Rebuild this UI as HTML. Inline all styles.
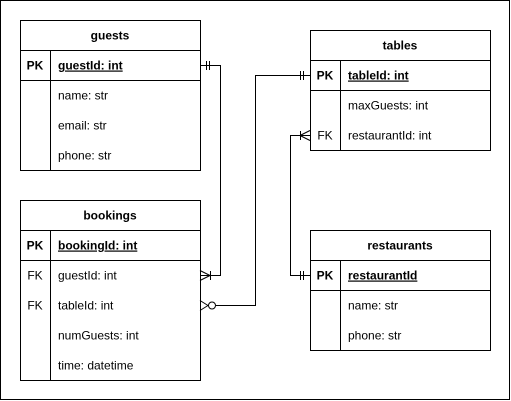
<!DOCTYPE html>
<html><head><meta charset="utf-8"><style>
html,body{margin:0;padding:0;background:#fff;width:511px;height:401px;overflow:hidden}
svg text{font-family:"Liberation Sans",Arial,sans-serif;font-size:12px;fill:#000}
</style></head><body>
<svg width="511" height="401" viewBox="0 0 511 401" xmlns="http://www.w3.org/2000/svg">
<rect x="0.5" y="0.5" width="509" height="399" fill="#fff" stroke="#000"/>
<g fill="none" stroke="#000" stroke-width="1">
<!-- guests -->
<rect x="20.5" y="20.5" width="180" height="150"/>
<line x1="20" y1="50.5" x2="200" y2="50.5"/>
<line x1="20" y1="80.5" x2="200" y2="80.5"/>
<line x1="50.5" y1="50" x2="50.5" y2="170"/>
<!-- bookings -->
<rect x="20.5" y="200.5" width="180" height="180"/>
<line x1="20" y1="230.5" x2="200" y2="230.5"/>
<line x1="20" y1="260.5" x2="200" y2="260.5"/>
<line x1="50.5" y1="230" x2="50.5" y2="380"/>
<!-- tables -->
<rect x="310.5" y="30.5" width="180" height="120"/>
<line x1="310" y1="60.5" x2="490" y2="60.5"/>
<line x1="310" y1="90.5" x2="490" y2="90.5"/>
<line x1="340.5" y1="60" x2="340.5" y2="150"/>
<!-- restaurants -->
<rect x="310.5" y="230.5" width="180" height="120"/>
<line x1="310" y1="260.5" x2="490" y2="260.5"/>
<line x1="310" y1="290.5" x2="490" y2="290.5"/>
<line x1="340.5" y1="260" x2="340.5" y2="350"/>

<!-- guests -> bookings -->
<polyline points="200,65.5 220.5,65.5 220.5,275.5 200,275.5"/>
<line x1="206.5" y1="61" x2="206.5" y2="70"/>
<line x1="209.5" y1="61" x2="209.5" y2="70"/>
<line x1="200" y1="270.5" x2="210" y2="275.5"/>
<line x1="200" y1="280.5" x2="210" y2="275.5"/>
<line x1="210.5" y1="271" x2="210.5" y2="280"/>

<!-- bookings tableId -> tables -->
<polyline points="216,305.5 255.5,305.5 255.5,75.5 310,75.5"/>
<line x1="200" y1="300.5" x2="208" y2="305.5"/>
<line x1="200" y1="310.5" x2="208" y2="305.5"/>
<circle cx="212" cy="305.5" r="3.5" fill="#fff"/>
<line x1="300.5" y1="71" x2="300.5" y2="80"/>
<line x1="303.5" y1="71" x2="303.5" y2="80"/>

<!-- tables restaurantId -> restaurants -->
<polyline points="310,135.5 290.5,135.5 290.5,275.5 310,275.5"/>
<line x1="310" y1="130.5" x2="300" y2="135.5"/>
<line x1="310" y1="140.5" x2="300" y2="135.5"/>
<line x1="300.5" y1="131" x2="300.5" y2="140"/>
<line x1="300.5" y1="271" x2="300.5" y2="280"/>
<line x1="303.5" y1="271" x2="303.5" y2="280"/>
</g>

<g font-weight="bold" text-anchor="middle">
<text x="110" y="39.5">guests</text>
<text x="110" y="219.5">bookings</text>
<text x="400" y="49.5">tables</text>
<text x="400" y="249.5">restaurants</text>
<text x="35" y="69.5">PK</text>
<text x="35" y="249.5">PK</text>
<text x="325" y="79.5">PK</text>
<text x="325" y="279.5">PK</text>
</g>
<g font-weight="bold" text-decoration="underline">
<text x="58" y="69.5">guestId: int</text>
<text x="58" y="249.5">bookingId: int</text>
<text x="348" y="79.5">tableId: int</text>
<text x="348" y="279.5">restaurantId</text>
</g>
<g>
<text x="58" y="99.5">name: str</text>
<text x="58" y="129.5">email: str</text>
<text x="58" y="159.5">phone: str</text>
<text x="35" y="279.5" text-anchor="middle">FK</text>
<text x="35" y="309.5" text-anchor="middle">FK</text>
<text x="58" y="279.5">guestId: int</text>
<text x="58" y="309.5">tableId: int</text>
<text x="58" y="339.5">numGuests: int</text>
<text x="58" y="369.5">time: datetime</text>
<text x="348" y="109.5">maxGuests: int</text>
<text x="325" y="139.5" text-anchor="middle">FK</text>
<text x="348" y="139.5">restaurantId: int</text>
<text x="348" y="309.5">name: str</text>
<text x="348" y="339.5">phone: str</text>
</g>
<line x1="58" y1="71.5" x2="0" y2="0" stroke="none"/>
</svg>
</body></html>
